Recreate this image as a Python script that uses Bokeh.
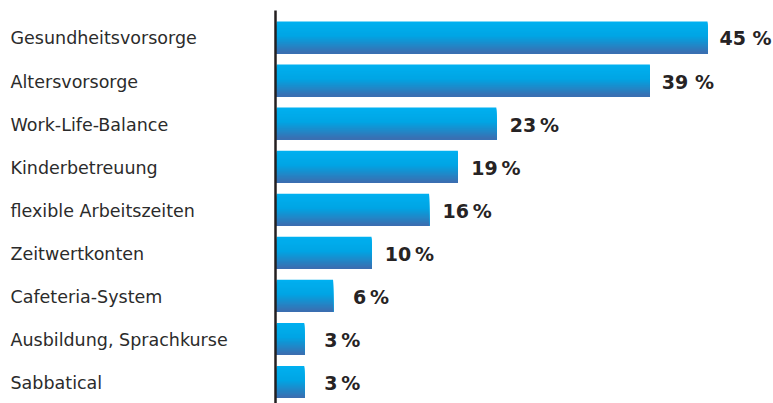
from bokeh.plotting import figure
from bokeh.models import Range1d, ColumnDataSource
from bokeh.core.properties import value
from bokeh.embed import file_html
from bokeh.resources import INLINE

categories = ["Gesundheitsvorsorge", "Altersvorsorge", "Work-Life-Balance",
              "Kinderbetreuung", "flexible Arbeitszeiten", "Zeitwertkonten",
              "Cafeteria-System", "Ausbildung, Sprachkurse", "Sabbatical"]
values = [45, 39, 23, 19, 16, 10, 6, 3, 3]
value_labels = ["45 %", "39 %", "23\u2009%", "19\u2009%", "16\u2009%", "10\u2009%", "6\u2009%", "3\u2009%", "3\u2009%"]

W, H = 773, 403
p = figure(width=W, height=H, output_backend="svg", toolbar_location=None,
           x_range=Range1d(-275 / 9.6, (W - 275) / 9.6),
           y_range=Range1d(8.5, -0.859),
           min_border=0, min_border_left=0, min_border_right=0,
           min_border_top=0, min_border_bottom=0)
p.axis.visible = False
p.grid.visible = False
p.outline_line_color = None
p.background_fill_color = "white"
p.border_fill_color = "white"

idx = list(range(len(categories)))

# gradient bars built from overlapping strips (each strip runs to the bar bottom)
bar_h = 0.743
N = 32
def grad(t):
    stops = [(0.0, (0, 176, 240)), (0.45, (0, 165, 228)), (1.0, (62, 108, 174))]
    for (t0, c0), (t1, c1) in zip(stops[:-1], stops[1:]):
        if t0 <= t <= t1:
            f = (t - t0) / (t1 - t0)
            return "#%02x%02x%02x" % tuple(int(round(a + (b - a) * f)) for a, b in zip(c0, c1))
    return "#%02x%02x%02x" % stops[-1][1]

tops, bottoms, rights, cols = [], [], [], []
sh = bar_h / N
for i, v in zip(idx, values):
    for k in range(N):
        t = (k + 0.5) / N
        tops.append(i - bar_h / 2 + k * sh)
        bottoms.append(i + bar_h / 2)
        rights.append(v)
        cols.append(grad(t))
p.quad(left=0.12, right=rights, top=tops, bottom=bottoms, fill_color=cols, line_color=None)

# axis line
p.segment(x0=[0], y0=[-0.627], x1=[0], y1=[8.5], line_color="#231f20", line_width=2.5)

src = ColumnDataSource(dict(y=idx, v=values, cat=categories, lab=value_labels))
p.text(x=0, y="y", text="cat", source=src, x_offset=-265, y_offset=1, text_align="left",
       text_baseline="middle", text_font=value("DejaVu Sans"), text_font_size="17.5px",
       text_color="#2b2b2b")
p.text(x="v", y="y", text="lab", source=src, x_offset=38, y_offset=1, text_align="center",
       text_baseline="middle", text_font=value("DejaVu Sans"), text_font_size="19px",
       text_font_style="bold", text_color="#262324")

open("out.html", "w").write(file_html(p, INLINE))
